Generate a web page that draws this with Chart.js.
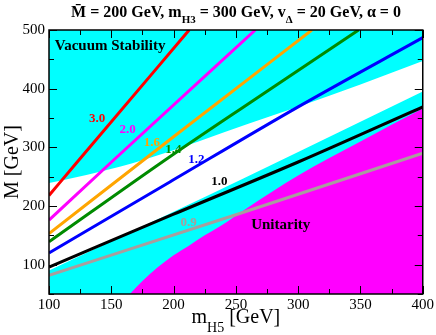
<!DOCTYPE html>
<html><head><meta charset="utf-8">
<script src="https://cdn.jsdelivr.net/npm/chart.js@4"></script>
<style>html,body{margin:0;padding:0;background:#fff;}canvas{display:block;}</style>
</head><body>
<canvas id="c" width="436" height="335"></canvas>
<script>
// ---- data ----
const xTicksMajor = [100, 150, 200, 250, 300, 350, 400];
const xTicksMinor = [125, 175, 225, 275, 325, 375];
const yTicksMajor = [100, 200, 300, 400, 500];
const yTicksMinor = [50, 150, 250, 350, 450];

// allowed (white) band: upper and lower edges
const whiteUpperX = [100, 140, 175, 220, 260, 300, 350, 400];
const whiteUpperY = [239, 258, 278, 310, 340, 369, 407, 447];
const whiteLowerX = [100, 200, 256, 300, 400];
const whiteLowerY = [90, 190, 247, 292, 395];
// unitarity-excluded region edge
const unitarityX = [165, 175, 187, 200, 212, 225, 237, 260, 300, 350, 400];
const unitarityY = [50, 72, 95, 116, 132, 150, 165, 198, 252, 310, 366];

// contour lines
const line30X = [100, 123.5, 212.5];        const line30Y = [218, 277, 500];
const line20X = [100, 151.7, 265.6];        const line20Y = [176, 278, 500];
const line16X = [100, 200, 311];            const line16Y = [153, 318, 500];
const line14X = [100, 197, 264, 348.5];     const line14Y = [139, 284, 380, 500];
const line12X = [100, 197, 300, 400];       const line12Y = [120, 241, 369, 487];
const line10X = [100, 200, 300, 400];       const line10Y = [96, 186, 275, 369];
const line09X = [100, 250, 400];            const line09Y = [82, 185, 290];

const contourNames = ['3.0', '2.0', '1.6', '1.4', '1.2', '1.0', '0.9'];
const contourLabelX = [138.7, 163.1, 182.5, 199.9, 218.3, 236.8, 212];
const contourLabelY = [343.5, 323.6, 302, 290.5, 273.5, 235.4, 165.4];

// ---- styles ----
const SERIF = "'Liberation Serif', 'Times New Roman', serif";
const CYAN = '#00ffff', MAGENTA = '#ff00ff';
const contourColors = ['#ff0000', '#ff00ff', '#ffa500', '#008b00', '#0000ff', '#000000', '#a99d9d'];

const pts = (xs, ys) => xs.map((x, i) => ({x: x, y: ys[i]}));
const contourX = [line30X, line20X, line16X, line14X, line12X, line10X, line09X];
const contourY = [line30Y, line20Y, line16Y, line14Y, line12Y, line10Y, line09Y];

const datasets = [];
contourNames.forEach((n, i) => {
  datasets.push({
    label: n, data: pts(contourX[i], contourY[i]),
    borderColor: contourColors[i], borderWidth: 3, pointRadius: 0,
    fill: false, clip: 0, cubicInterpolationMode: 'monotone'
  });
});
datasets.push({label: 'unitarity', data: pts(unitarityX, unitarityY), borderWidth: 0, borderColor: 'rgba(0,0,0,0)',
  pointRadius: 0, fill: 'start', backgroundColor: MAGENTA, clip: 0, cubicInterpolationMode: 'monotone'});
datasets.push({label: 'whiteLower', data: pts(whiteLowerX, whiteLowerY), borderWidth: 0, borderColor: 'rgba(0,0,0,0)',
  pointRadius: 0, fill: false, clip: 0, cubicInterpolationMode: 'monotone'});
datasets.push({label: 'whiteUpper', data: pts(whiteUpperX, whiteUpperY), borderWidth: 0, borderColor: 'rgba(0,0,0,0)',
  pointRadius: 0, fill: '-1', backgroundColor: '#ffffff', clip: 0, cubicInterpolationMode: 'monotone'});

function richText(ctx, segs, cx, base, mainFont, subFont, subDy) {
  let w = 0;
  segs.forEach(s => { ctx.font = s.sub ? subFont : mainFont; s.w = ctx.measureText(s.t).width; w += s.w; });
  let x = cx - w / 2;
  ctx.textAlign = 'left'; ctx.textBaseline = 'alphabetic';
  segs.forEach(s => { ctx.font = s.sub ? subFont : mainFont; ctx.fillText(s.t, x, base + (s.sub ? subDy : 0)); x += s.w; });
}

const bgPlugin = {
  id: 'bg',
  beforeDatasetsDraw(chart) {
    const a = chart.chartArea, ctx = chart.ctx;
    ctx.save(); ctx.fillStyle = CYAN; ctx.fillRect(a.left, a.top, a.right - a.left, a.bottom - a.top); ctx.restore();
  },
  afterDatasetsDraw(chart) {
    const ctx = chart.ctx, a = chart.chartArea, xs = chart.scales.x, ys = chart.scales.y;
    ctx.save();
    // labels inside plot
    ctx.textAlign = 'center'; ctx.textBaseline = 'alphabetic';
    ctx.font = 'bold 13px ' + SERIF;
    contourNames.forEach((n, i) => {
      ctx.fillStyle = contourColors[i];
      ctx.fillText(n, xs.getPixelForValue(contourLabelX[i]), ys.getPixelForValue(contourLabelY[i]));
    });
    ctx.fillStyle = '#000';
    ctx.font = 'bold 15px ' + SERIF;
    ctx.fillText('Vacuum Stability', xs.getPixelForValue(149), ys.getPixelForValue(466));
    ctx.fillText('Unitarity', xs.getPixelForValue(286), ys.getPixelForValue(160));
    // ticks and frame
    ctx.strokeStyle = '#000'; ctx.lineWidth = 1;
    ctx.beginPath();
    const xt = (v, L) => { const p = Math.round(xs.getPixelForValue(v)) + 0.5;
      ctx.moveTo(p, a.bottom); ctx.lineTo(p, a.bottom - L); ctx.moveTo(p, a.top); ctx.lineTo(p, a.top + L); };
    const yt = (v, L) => { const p = Math.round(ys.getPixelForValue(v)) + 0.5;
      ctx.moveTo(a.left, p); ctx.lineTo(a.left + L, p); ctx.moveTo(a.right, p); ctx.lineTo(a.right - L, p); };
    xTicksMajor.forEach(v => xt(v, 8)); xTicksMinor.forEach(v => xt(v, 5));
    yTicksMajor.forEach(v => yt(v, 8)); yTicksMinor.forEach(v => yt(v, 5));
    ctx.stroke();
    ctx.lineWidth = 1.5;
    ctx.strokeRect(a.left, a.top, a.right - a.left, a.bottom - a.top);
    ctx.restore();
  },
  afterDraw(chart) {
    const ctx = chart.ctx, a = chart.chartArea;
    ctx.save(); ctx.fillStyle = '#000';
    richText(ctx, [
      {t: 'M\u0304 = 200 GeV, m'}, {t: 'H3', sub: true}, {t: ' = 300 GeV, v'}, {t: '\u0394', sub: true}, {t: ' = 20 GeV, \u03b1 = 0'}
    ], 236, 17, 'bold 16px ' + SERIF, 'bold 11px ' + SERIF, 6);
    const cx = (a.left + a.right) / 2;
    richText(ctx, [{t: 'm'}, {t: 'H5', sub: true}, {t: ' [GeV]'}], cx, 323, '20px ' + SERIF, '14px ' + SERIF, 9);
    ctx.translate(18, (a.top + a.bottom) / 2);
    ctx.rotate(-Math.PI / 2);
    richText(ctx, [{t: 'M [GeV]'}], 0, 0, '20px ' + SERIF, '14px ' + SERIF, 0);
    ctx.restore();
  }
};

new Chart(document.getElementById('c'), {
  type: 'line',
  data: {datasets: datasets},
  options: {
    responsive: false, animation: false, events: [],
    layout: {padding: {top: 30, right: 13, left: 0, bottom: 0}},
    plugins: {legend: {display: false}, tooltip: {enabled: false}, title: {display: false}},
    scales: {
      x: {
        type: 'linear', min: 100, max: 400,
        afterBuildTicks: s => { s.ticks = xTicksMajor.map(v => ({value: v})); },
        afterFit: s => { s.height = 41; },
        grid: {display: false, drawTicks: false}, border: {display: false},
        ticks: {font: {family: SERIF, size: 15}, color: '#000', padding: 2, maxRotation: 0, autoSkip: false}
      },
      y: {
        type: 'linear', min: 50, max: 500,
        afterBuildTicks: s => { s.ticks = yTicksMajor.map(v => ({value: v})); },
        afterFit: s => { s.width = 49; },
        grid: {display: false, drawTicks: false}, border: {display: false},
        ticks: {font: {family: SERIF, size: 15}, color: '#000', padding: 4, autoSkip: false}
      }
    }
  },
  plugins: [bgPlugin]
});
</script>
</body></html>
